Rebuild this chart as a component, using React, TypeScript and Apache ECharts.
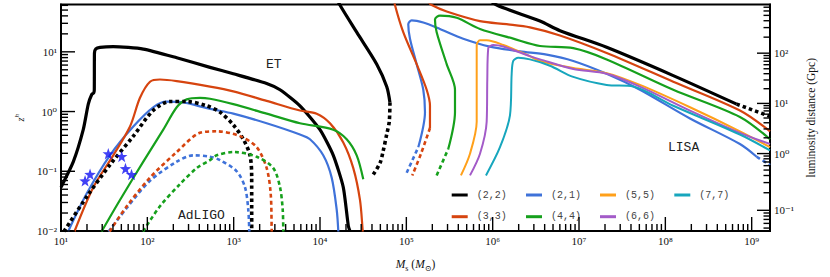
import { useEffect, useRef } from 'react';
import * as echarts from 'echarts';

// ---------- axis ranges ----------
const X_MIN = 10;
const X_MAX = 1.63e9;
const Y_MIN = 0.01;
const Y_MAX = 62;

const X_MAJOR_EXP = [1, 2, 3, 4, 5, 6, 7, 8, 9];
const Y_MAJOR_EXP = [-2, -1, 0, 1];
const MINOR_MANTISSAS = [2, 3, 4, 5, 6, 7, 8, 9];
const DL_MAJOR_GPC = [0.1, 1, 10, 100];
const DL_DECADES = [-2, -1, 0, 1, 2];

// cosmology for the luminosity-distance axis
const H0 = 67.7;
const OMEGA_M = 0.31;
const OMEGA_R = 9e-5;
const OMEGA_L = 1 - OMEGA_M - OMEGA_R;

// ---------- legend ----------
const LEGEND_COLUMNS = [
  ['(2,2)', '(3,3)'],
  ['(2,1)', '(4,4)'],
  ['(5,5)', '(6,6)'],
  ['(7,7)'],
];
const LEGEND_LEFT = [451.7, 526, 600, 674.3];

const COLORS: Record<string, string> = {
  '(2,2)': '#000000',
  '(2,1)': '#3f72d9',
  '(3,3)': '#d6440f',
  '(4,4)': '#16a01c',
  '(5,5)': '#ffa01a',
  '(6,6)': '#a35bc8',
  '(7,7)': '#17a6bd',
};

// ---------- data: [total mass (Msun), redshift] ----------
// Einstein Telescope horizon
const ET_22 = [[10, 0.054], [13.9, 0.145], [18.1, 0.497], [20.7, 1.33], [22.7, 1.93], [23.9, 2.05], [24.3, 2.3], [24.4, 9.5], [25.3, 11.2], [28.3, 11.9], [40.3, 12.25], [89.8, 11.1], [219, 7.95], [532, 5.49], [990, 4.29], [2410, 2.96], [3440, 2.32], [5860, 1.25], [9990, 0.497], [14250, 0.185], [18600, 0.0541], [21260, 0.0123], [22300, 0.0098]];
const ET_21 = [[12.1, 0.0098], [19.85, 0.0423], [36.9, 0.185], [68.8, 0.562], [117, 1.18], [167.6, 1.47], [261, 1.42], [532, 1.11], [990, 0.922], [2410, 0.637], [5860, 0.413], [7655, 0.344], [10900, 0.185], [13650, 0.0783], [15600, 0.0229], [16300, 0.0098]];
const ET_33 = [[14.3, 0.0098], [23.7, 0.0541], [40.3, 0.185], [63, 0.562], [82.2, 1.7], [107.4, 3.16], [140, 3.44], [219, 3.24], [532, 2.62], [990, 2.18], [2410, 1.51], [5860, 1.04], [9150, 0.922], [13050, 0.637], [18600, 0.304], [24290, 0.113], [29040, 0.0331], [31210, 0.0103], [31300, 0.0098]];
const ET_44 = [[29.5, 0.0098], [48.2, 0.0331], [89.8, 0.145], [153, 0.497], [219, 1.18], [286, 1.6], [407, 1.7], [532, 1.64], [990, 1.33], [2410, 0.922], [5860, 0.637], [14250, 0.497], [20370, 0.344], [26600, 0.185], [31710, 0.0736]];

// Advanced LIGO horizon
const LIGO_22 = [[10.8, 0.0098], [19.85, 0.0374], [36.9, 0.128], [68.8, 0.388], [117, 1.04], [183, 1.47], [286, 1.47], [487, 1.25], [694, 0.977], [990, 0.598], [1292, 0.344], [1545, 0.185], [1617, 0.0783], [1617, 0.0098]];
const LIGO_21 = [[35.5, 0.0098], [57.7, 0.0243], [107.4, 0.0693], [219, 0.145], [341, 0.185], [532, 0.175], [694, 0.154], [1084, 0.1], [1352, 0.0541], [1476, 0.0229], [1517, 0.0098]];
const LIGO_33 = [[36.5, 0.0098], [57.7, 0.0259], [107.4, 0.0783], [219, 0.21], [407, 0.44], [636, 0.467], [1184, 0.388], [1848, 0.253], [2413, 0.113], [2684, 0.0423], [2756, 0.011], [2760, 0.0098]];
const LIGO_44 = [[89, 0.0098], [140, 0.0259], [239, 0.0611], [373, 0.113], [532, 0.154], [636, 0.185], [1000, 0.21], [1848, 0.175], [2877, 0.113], [3440, 0.0541], [3697, 0.0229], [3757, 0.0098]];

// LISA horizon (solid above threshold, dotted below)
const LISA_22_LOW = [[15500, 80], [17000, 60.7], [26600, 21.3], [45400, 6.21], [59200, 2.62], [64600, 1.42]];
const LISA_22_LOW_FAINT = [[64600, 1.42], [63400, 0.676], [59200, 0.413], [54100, 0.223], [49500, 0.137], [41400, 0.0885]];
const LISA_22_HIGH = [[8.6e5, 81], [1.112e6, 60.7], [3.53e6, 32.7], [6.02e6, 22.6], [2.09e7, 11.9], [1.235e8, 4.0], [6.7e8, 1.33]];
const LISA_22_HIGH_FAINT = [[6.7e8, 1.33], [1.63e9, 0.83]];
const LISA_21 = [[1.375e5, 0.253], [1.644e5, 0.978], [1.571e5, 2.32], [1.317e5, 6.21], [1.102e5, 16.6], [1.053e5, 29.0], [1.153e5, 33.6], [1.571e5, 30.9], [2.452e5, 24.1], [4.56e5, 16.6], [9.3e5, 12.25], [2.07e6, 10.2], [4.22e6, 8.98], [8.58e6, 7.04], [2.09e7, 4.29], [5.08e7, 2.32], [1.93e8, 0.766], [7.31e8, 0.286], [1.142e9, 0.175]];
const LISA_21_FAINT_LOW = [[1.009e5, 0.0943], [1.375e5, 0.253]];
const LISA_21_FAINT_HIGH = [[1.142e9, 0.175], [1.63e9, 0.127]];
const LISA_33_LOW = [[71900, 81.5], [73800, 60.7], [92100, 21.3], [1.317e5, 6.21], [1.72e5, 2.32], [1.878e5, 1.25], [1.878e5, 0.53]];
const LISA_33_LOW_FAINT = [[1.878e5, 0.53], [1.478e5, 0.197], [1.172e5, 0.0853]];
const LISA_33_HIGH = [[1.78e5, 70], [1.965e5, 60.7], [2.933e5, 47.4], [7.13e5, 32.7], [1.452e6, 29.0], [2.7e6, 25.7], [6.02e6, 18.8], [2.09e7, 9.57], [1.235e8, 3.16], [7.31e8, 1.04], [1.63e9, 0.467]];
const LISA_44 = [[3.06e5, 0.237], [3.66e5, 0.978], [3.66e5, 2.32], [2.933e5, 6.21], [2.245e5, 21.3], [2.146e5, 34.9], [2.452e5, 40.4], [3.83e5, 37.1], [7.13e5, 24.1], [1.732e6, 16.6], [3.53e6, 12.5], [8.58e6, 11.5], [2.09e7, 7.47], [1.235e8, 2.32], [7.31e8, 0.813], [1.63e9, 0.344]];
const LISA_44_FAINT = [[2.245e5, 0.0853], [3.06e5, 0.237]];
const LISA_55 = [[4.29e5, 0.0853], [5.46e5, 0.197], [6.53e5, 0.676], [6.53e5, 6.21], [6.53e5, 13.0], [7.13e5, 15.6], [8.52e5, 15.6], [1.327e6, 13.0], [2.476e6, 8.98], [3.53e6, 7.04], [8.58e6, 5.35], [2.09e7, 4.4], [5.08e7, 2.79], [1.93e8, 1.18], [7.31e8, 0.467], [1.63e9, 0.253]];
const LISA_66 = [[5.46e5, 0.0853], [7.13e5, 0.197], [8.52e5, 0.676], [8.66e5, 3.36], [8.89e5, 11.5], [1.016e6, 13.0], [1.327e6, 12.25], [2.7e6, 8.47], [3.53e6, 7.47], [8.58e6, 5.16], [2.09e7, 4.29], [5.08e7, 2.62], [1.93e8, 1.04], [7.31e8, 0.44], [1.63e9, 0.286]];
const LISA_77 = [[8.36e5, 0.0853], [1.215e6, 0.253], [1.586e6, 0.866], [1.66e6, 4.29], [1.732e6, 7.04], [1.979e6, 7.95], [2.7e6, 7.47], [4.61e6, 5.85], [8.58e6, 3.8], [2.09e7, 2.79], [4.25e7, 2.62], [1.235e8, 1.25], [7.31e8, 0.413], [1.63e9, 0.223]];

// detected events
const GW_EVENTS = [[19, 0.0693], [21.7, 0.089], [35.3, 0.197], [50.5, 0.177], [55.8, 0.111], [65.6, 0.0886]];

// ---------- helpers ----------
const SUP: Record<string, string> = { '-': '⁻', '0': '⁰', '1': '¹', '2': '²', '3': '³', '4': '⁴', '5': '⁵', '6': '⁶', '7': '⁷', '8': '⁸', '9': '⁹' };
const pow10Label = (e: number) => '10' + String(Math.round(e)).split('').map((c) => SUP[c]).join('');

function minorLogTicks(lo: number, hi: number) {
  const out: number[] = [];
  for (let e = Math.floor(lo) - 1; e <= Math.ceil(hi); e++) {
    for (const k of MINOR_MANTISSAS) {
      const v = e + Math.log10(k);
      if (v > lo && v < hi) out.push(v);
    }
  }
  return out;
}

const C_OVER_H0_GPC = 299792.458 / H0 / 1000;
function lumDistGpc(z: number) {
  const U = Math.log1p(z);
  const N = 400;
  const h = U / N;
  let s = 0;
  for (let i = 0; i <= N; i++) {
    const a = Math.exp(i * h);
    const f = a / Math.sqrt(OMEGA_R * a ** 4 + OMEGA_M * a ** 3 + OMEGA_L);
    s += f * (i === 0 || i === N ? 1 : i % 2 ? 4 : 2);
  }
  return (1 + z) * C_OVER_H0_GPC * (s * h) / 3;
}
function log10zForDL(d: number) {
  let lo = -4;
  let hi = 3;
  for (let i = 0; i < 50; i++) {
    const m = (lo + hi) / 2;
    if (lumDistGpc(10 ** m) < d) lo = m;
    else hi = m;
  }
  return (lo + hi) / 2;
}

const SERIF = '"Liberation Serif", "DejaVu Serif", serif';
const MONO = '"Liberation Mono", "DejaVu Sans Mono", monospace';

// tick marks drawn through the log scales: side = bottom | left | right
function tickSeries(side: 'bottom' | 'left' | 'right', exps: number[], len: number) {
  const data = exps.map((e) =>
    side === 'bottom' ? [10 ** e, Y_MIN] : side === 'left' ? [X_MIN, 10 ** e] : [X_MAX, 10 ** e]
  );
  return {
    type: 'custom',
    coordinateSystem: 'cartesian2d',
    xAxisIndex: 0,
    yAxisIndex: 0,
    silent: true,
    clip: false,
    z: 6,
    data,
    renderItem: (_: any, api: any) => {
      const p = api.coord([api.value(0), api.value(1)]);
      let shape;
      if (side === 'bottom') shape = { x1: p[0], y1: p[1], x2: p[0], y2: p[1] - len };
      else if (side === 'left') shape = { x1: p[0], y1: p[1], x2: p[0] + len, y2: p[1] };
      else shape = { x1: p[0], y1: p[1], x2: p[0] - len, y2: p[1] };
      return { type: 'line', shape, style: { stroke: '#000', lineWidth: 1.4 } };
    },
  };
}

function buildOption() {
  const xLo = Math.log10(X_MIN);
  const xHi = Math.log10(X_MAX);
  const yLo = Math.log10(Y_MIN);
  const yHi = Math.log10(Y_MAX);

  const dlMajorPos = DL_MAJOR_GPC.map((d) => log10zForDL(d));
  const dlMinorPos: number[] = [];
  for (const e of DL_DECADES) {
    for (const k of MINOR_MANTISSAS) {
      const p = log10zForDL(k * 10 ** e);
      if (p > yLo && p < yHi) dlMinorPos.push(p);
    }
  }
  const dlLabelMap = new Map<number, string>();
  dlMajorPos.forEach((p, i) => dlLabelMap.set(p, pow10Label(Math.log10(DL_MAJOR_GPC[i]))));

  const labelStyle = { fontFamily: SERIF, fontSize: 11, color: '#111' };

  const line = (name: string, data: number[][], width: number, dash: any = 'solid', smooth = 0.3) => ({
    type: 'line',
    name,
    data,
    xAxisIndex: 0,
    yAxisIndex: 0,
    symbol: 'none',
    showSymbol: false,
    smooth,
    silent: true,
    clip: true,
    lineStyle: { color: COLORS[name], width, type: dash, cap: 'butt', join: 'round' },
    itemStyle: { color: COLORS[name] },
  });

  const BLACK_DOT = [3.5, 3];
  const COLOR_DASH = [4, 3];

  const series: any[] = [
    line('(2,2)', ET_22, 3.2, 'solid', 0.2),
    line('(2,1)', ET_21, 2.2),
    line('(3,3)', ET_33, 2.2),
    line('(4,4)', ET_44, 2.2),
    line('(2,2)', LIGO_22, 3.6, BLACK_DOT),
    line('(2,1)', LIGO_21, 2.6, COLOR_DASH),
    line('(3,3)', LIGO_33, 2.6, COLOR_DASH),
    line('(4,4)', LIGO_44, 2.6, COLOR_DASH),
    line('(2,2)', LISA_22_LOW, 3.2),
    line('(2,2)', LISA_22_LOW_FAINT, 3.6, BLACK_DOT),
    line('(2,2)', LISA_22_HIGH, 3.2),
    line('(2,2)', LISA_22_HIGH_FAINT, 3.6, BLACK_DOT),
    line('(2,1)', LISA_21, 2.2),
    line('(2,1)', LISA_21_FAINT_LOW, 2.6, COLOR_DASH),
    line('(2,1)', LISA_21_FAINT_HIGH, 2.6, COLOR_DASH),
    line('(3,3)', LISA_33_LOW, 2.2),
    line('(3,3)', LISA_33_LOW_FAINT, 2.6, COLOR_DASH),
    line('(3,3)', LISA_33_HIGH, 2.2),
    line('(4,4)', LISA_44, 2.2),
    line('(4,4)', LISA_44_FAINT, 2.6, COLOR_DASH),
    line('(5,5)', LISA_55, 2),
    line('(6,6)', LISA_66, 2),
    line('(7,7)', LISA_77, 2),
    {
      type: 'scatter',
      name: 'GW events',
      data: GW_EVENTS,
      xAxisIndex: 0,
      yAxisIndex: 0,
      symbol: 'path://M0,-10 L2.35,-3.24 L9.51,-3.09 L3.8,1.24 L5.88,8.09 L0,4 L-5.88,8.09 L-3.8,1.24 L-9.51,-3.09 L-2.35,-3.24 Z',
      symbolSize: 11.5,
      itemStyle: { color: '#1212f2' },
      silent: true,
      z: 5,
    },
    tickSeries('bottom', X_MAJOR_EXP, 14),
    tickSeries('bottom', minorLogTicks(xLo, xHi), 7),
    tickSeries('left', Y_MAJOR_EXP, 14),
    tickSeries('left', minorLogTicks(yLo, yHi), 7),
    tickSeries('right', dlMajorPos, 13),
    tickSeries('right', dlMinorPos, 6.5),
  ];

  return {
    animation: false,
    backgroundColor: '#fff',
    textStyle: { fontFamily: SERIF },
    grid: { left: 61, right: 60, top: 4.5, bottom: 36.3, show: true, borderColor: '#000', borderWidth: 2, backgroundColor: 'transparent' },
    legend: LEGEND_COLUMNS.map((names, i) => ({
      data: names,
      orient: 'vertical',
      left: LEGEND_LEFT[i],
      top: 189,
      padding: 0,
      itemGap: 9.7,
      icon: 'rect',
      itemWidth: 16,
      itemHeight: 3,
      selectedMode: false,
      textStyle: { fontFamily: MONO, fontSize: 10, color: '#444', lineHeight: 12, padding: [0, 0, 0, 4] },
    })),
    xAxis: [
      { type: 'log', logBase: 10, min: X_MIN, max: X_MAX, show: false },
      {
        type: 'value', min: xLo, max: xHi, position: 'bottom',
        axisLine: { show: true, onZero: false, lineStyle: { color: '#000', width: 2 } },
        axisTick: { show: false },
        axisLabel: { show: true, customValues: X_MAJOR_EXP, formatter: (v: number) => pow10Label(v), margin: 4, ...labelStyle },
        splitLine: { show: false },
        name: '{i|M}{sub|s} ({i|M}{sub|⊙})',
        nameLocation: 'middle',
        nameGap: 25,
        nameTextStyle: {
          rich: {
            i: { fontFamily: SERIF, fontStyle: 'italic', fontSize: 11.5, color: '#111', lineHeight: 16, verticalAlign: 'middle' },
            sub: { fontFamily: SERIF, fontSize: 8, color: '#111', lineHeight: 8, verticalAlign: 'bottom' },
          },
          fontFamily: SERIF, fontSize: 11.5, color: '#111', lineHeight: 16,
        },
      },
    ],
    yAxis: [
      { type: 'log', logBase: 10, min: Y_MIN, max: Y_MAX, show: false },
      {
        type: 'value', min: yLo, max: yHi, position: 'left',
        axisLine: { show: true, onZero: false, lineStyle: { color: '#000', width: 2 } },
        axisTick: { show: false },
        axisLabel: { show: true, customValues: Y_MAJOR_EXP, formatter: (v: number) => pow10Label(v), margin: 4, ...labelStyle },
        splitLine: { show: false },
        name: '{i|z}{sup|h}',
        nameLocation: 'middle',
        nameRotate: 90,
        nameGap: 34,
        nameTextStyle: {
          rich: {
            i: { fontFamily: SERIF, fontStyle: 'italic', fontSize: 10, color: '#111', lineHeight: 14, verticalAlign: 'middle' },
            sup: { fontFamily: SERIF, fontStyle: 'italic', fontSize: 7, color: '#111', lineHeight: 7, verticalAlign: 'top' },
          },
        },
      },
      {
        type: 'value', min: yLo, max: yHi, position: 'right',
        axisLine: { show: true, onZero: false, lineStyle: { color: '#000', width: 2 } },
        axisTick: { show: false },
        axisLabel: {
          show: true, customValues: dlMajorPos, margin: 4, ...labelStyle,
          formatter: (v: number) => {
            let best = '';
            let bd = Infinity;
            dlLabelMap.forEach((lab, p) => { const d = Math.abs(p - v); if (d < bd) { bd = d; best = lab; } });
            return best;
          },
        },
        splitLine: { show: false },
        name: 'luminosity distance (Gpc)',
        nameLocation: 'middle',
        nameRotate: 90,
        nameGap: 22,
        nameTextStyle: { fontFamily: SERIF, fontSize: 11.5, color: '#111' },
      },
    ],
    graphic: [
      { type: 'text', left: 266, top: 58, silent: true, style: { text: 'ET', fontFamily: MONO, fontSize: 13, fill: '#222' } },
      { type: 'text', left: 178, top: 209, silent: true, style: { text: 'AdLIGO', fontFamily: MONO, fontSize: 13, fill: '#222' } },
      { type: 'text', left: 668, top: 141, silent: true, style: { text: 'LISA', fontFamily: MONO, fontSize: 13, fill: '#222' } },
    ],
    series,
  };
}

export default function App() {
  const ref = useRef<HTMLDivElement>(null);
  useEffect(() => {
    if (!ref.current) return;
    const chart = echarts.init(ref.current, undefined, { renderer: 'svg' });
    chart.setOption(buildOption() as any);
    return () => chart.dispose();
  }, []);
  return (
    <div
      ref={ref}
      style={{ position: 'fixed', left: 0, top: 0, width: 830, height: 277, background: '#fff' }}
    />
  );
}
